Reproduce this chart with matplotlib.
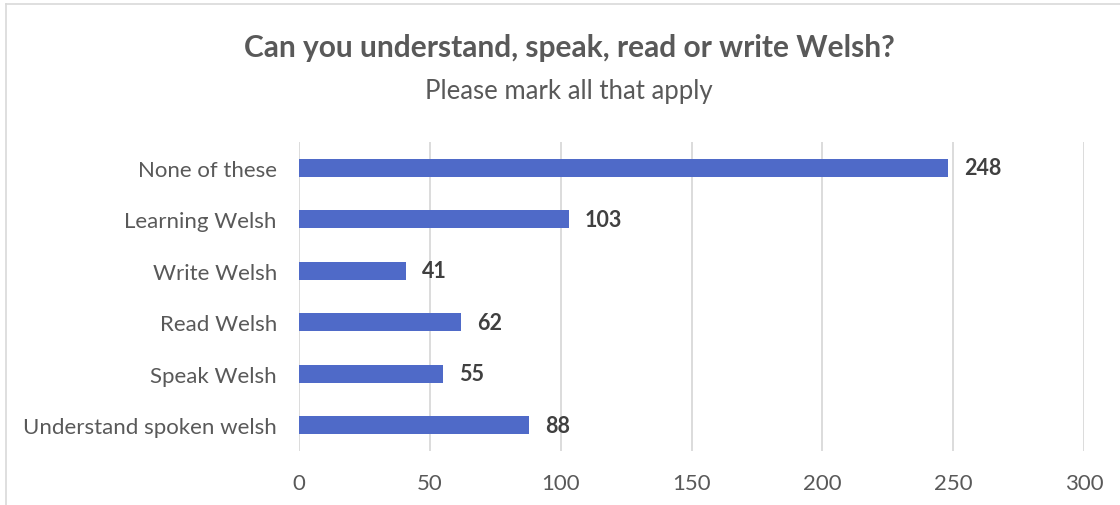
import matplotlib
matplotlib.use("Agg")
import matplotlib.pyplot as plt
from matplotlib.lines import Line2D

categories = ["Understand spoken welsh", "Speak Welsh", "Read Welsh",
              "Write Welsh", "Learning Welsh", "None of these"]
counts = [88, 55, 62, 41, 103, 248]
xticks = [0, 50, 100, 150, 200, 250, 300]

plt.rcParams['font.family'] = ['Lato', 'DejaVu Sans']
txt = '#595959'
bar_col = '#4F6AC8'

W, H = 1120, 506
fig = plt.figure(figsize=(W / 100, H / 100), dpi=100)
ax = fig.add_axes([299 / W, 1 - 452 / H, (1084 - 299) / W, (452 - 143) / H])

ypos = range(len(categories))
ax.barh(ypos, counts, height=0.35, color=bar_col, zorder=3)
for y, v in zip(ypos, counts):
    ax.text(v + 6, y, str(v), va='center', ha='left', fontsize=15.5,
            fontweight='bold', color='#404040')

ax.set_xlim(0, 300)
ax.set_ylim(-0.5, len(categories) - 0.5)
ax.set_xticks(xticks)
ax.set_yticks(list(ypos))
ax.set_yticklabels(categories)
ax.tick_params(axis='both', length=0, labelsize=16, colors=txt)
ax.tick_params(axis='x', pad=16)
ax.tick_params(axis='y', pad=16)
ax.grid(axis='x', color='#D9D9D9', linewidth=1.3, zorder=0)
for s in ax.spines.values():
    s.set_visible(False)

cx = 569 / W
fig.text(cx, 1 - 48 / H, "Can you understand, speak, read or write Welsh?",
         ha='center', va='center', fontsize=21.5, fontweight='bold', color=txt)
fig.text(cx, 1 - 92 / H, "Please mark all that apply",
         ha='center', va='center', fontsize=18.5, color=txt)

# chart frame (left and top edges visible)
fig.add_artist(Line2D([6 / W, 6 / W], [0, 1 - 5 / H], transform=fig.transFigure,
                      color='#D9D9D9', linewidth=1.2))
fig.add_artist(Line2D([6 / W, 1], [1 - 5 / H, 1 - 5 / H], transform=fig.transFigure,
                      color='#D9D9D9', linewidth=1.2))

fig.savefig("out.png", dpi=100)
